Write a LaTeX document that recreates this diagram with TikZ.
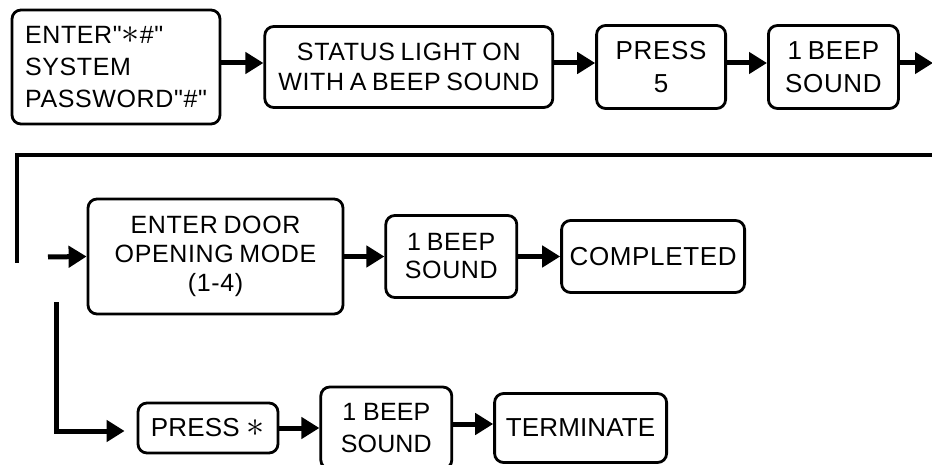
\documentclass[tikz,border=0pt]{standalone}
\usepackage{fontspec}
\usepackage{tikz}
\usetikzlibrary{positioning,arrows.meta}
\newfontfamily\boxfont[LetterSpace=2.5,WordSpace=0.75]{Liberation Sans}
\newfontfamily\tightfont[LetterSpace=0.5]{Liberation Sans}
\newcommand{\fsz}[2]{\fontsize{#1}{#2}\selectfont}
\newcommand{\bigast}{\scalebox{1.45}{$\ast$}}
\tikzset{
  stepbox/.style={draw,line width=2.8pt,rounded corners=9pt,
            align=center,inner sep=0pt,fill=white},
  flow/.style={-{Triangle[length=18pt,width=21pt]},line width=5pt},
  loopline/.style={line width=4pt},
}

\begin{document}
\begin{tikzpicture}[x=1pt,y=-1pt,node distance=40pt]
  \useasboundingbox (0,0) rectangle (932,465);
  % first row
  \node[stepbox,align=left,minimum width=208pt,minimum height=114pt,
        font=\boxfont\fsz{25}{32}] (enter) at (116,67)
        {ENTER"\bigast\#"\\SYSTEM\\PASSWORD"\#"};
  \node[stepbox,minimum width=288pt,minimum height=81pt,
        font=\boxfont\fsz{25}{30},right=42pt of enter] (status)
        {STATUS LIGHT ON\\WITH A BEEP SOUND};
  \node[stepbox,minimum width=129pt,minimum height=83pt,
        font=\boxfont\fsz{26}{33},right=41pt of status] (press5) {PRESS\\5};
  \node[stepbox,minimum width=130pt,minimum height=83pt,
        font=\boxfont\fsz{26}{33},right=of press5] (beep1) {1 BEEP\\SOUND};
  \coordinate (out1) at (933,63);
  \draw[flow] ([yshift=4pt]enter.east) -- ([yshift=4pt]status.west);
  \draw[flow] ([yshift=4pt]status.east) -- ([yshift=4pt]press5.west);
  \draw[flow] ([yshift=4pt]press5.east) -- ([yshift=4pt]beep1.west);
  \draw[flow] ([yshift=4pt]beep1.east) -- (out1);
  % second row
  \coordinate (loopR) at (933,155);
  \coordinate (loopL) at (17,263);
  \coordinate (in2) at (48,257);
  \draw[loopline] (loopR) -| (loopL);
  \node[stepbox,minimum width=255pt,minimum height=115pt,
        font=\boxfont\fsz{25}{29}] (mode) at (215.5,256.5)
        {ENTER DOOR\\OPENING MODE\\(1-4)};
  \node[stepbox,minimum width=131pt,minimum height=82pt,
        font=\boxfont\fsz{25}{28},right=of mode] (beep2) {1 BEEP\\SOUND};
  \node[stepbox,minimum width=183pt,minimum height=72pt,
        font=\boxfont\fsz{26}{30},right=42pt of beep2] (done) {COMPLETED};
  \draw[flow] (in2) -- (mode.west);
  \draw[flow] (mode) -- (beep2);
  \draw[flow] (beep2) -- (done);
  % third row
  \coordinate (br) at (56,302);
  \node[stepbox,minimum width=140pt,minimum height=50pt,
        font=\tightfont\fsz{26}{30}] (pressx) at (208,428) {PRESS \bigast};
  \node[stepbox,minimum width=131pt,minimum height=82pt,
        font=\tightfont\fsz{25}{32},right=of pressx] (beep3) {1 BEEP\\SOUND};
  \node[stepbox,minimum width=172pt,minimum height=69pt,
        font=\tightfont\fsz{26}{30},right=of beep3] (term) {TERMINATE};
  \draw[flow] (br) |- ([xshift=-12pt,yshift=-3pt]pressx.west);
  \draw[flow] (pressx) -- (beep3);
  \draw[flow] ([yshift=4pt]beep3.east) -- ([yshift=4pt]term.west);
\end{tikzpicture}
\end{document}
